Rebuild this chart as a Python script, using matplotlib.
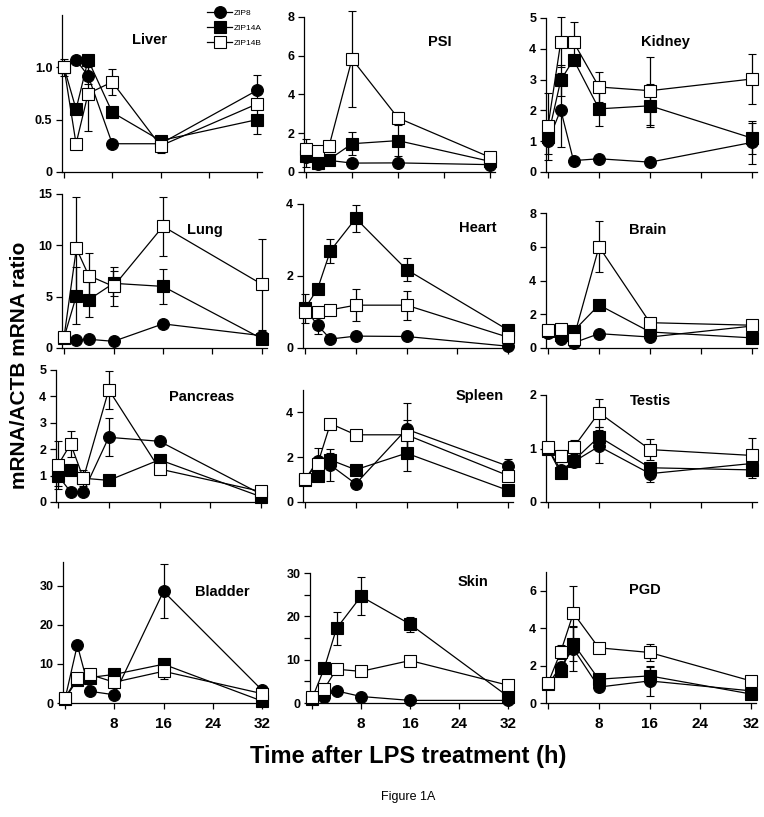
import matplotlib
matplotlib.use("Agg")
import matplotlib.pyplot as plt
from matplotlib.ticker import FixedLocator

plt.rcParams['font.family'] = ['Liberation Sans', 'DejaVu Sans']

W, H = 764, 817

# time after LPS treatment (h)
hours = [0, 2, 4, 8, 16, 32]
series_names = ["ZIP8", "ZIP14A", "ZIP14B"]
tissues = ["Liver", "PSI", "Kidney", "Lung", "Heart", "Brain",
           "Pancreas", "Spleen", "Testis", "Bladder", "Skin", "PGD"]

# mean mRNA/ACTB ratio, order: ZIP8, ZIP14A, ZIP14B
liver = [[1.0, 1.07, 0.92, 0.27, 0.27, 0.78],
         [1.0, 0.60, 1.07, 0.57, 0.30, 0.50],
         [1.0, 0.27, 0.75, 0.86, 0.25, 0.65]]
psi = [[0.8, 0.40, 0.60, 0.46, 0.47, 0.38],
       [0.85, 0.46, 0.64, 1.46, 1.62, 0.55],
       [1.2, 1.10, 1.32, 5.83, 2.79, 0.76]]
kidney = [[1.0, 2.02, 0.37, 0.43, 0.32, 0.96],
          [1.15, 2.98, 3.65, 2.05, 2.15, 1.10],
          [1.48, 4.22, 4.22, 2.76, 2.64, 3.02]]
lung = [[1.0, 0.8, 0.85, 0.65, 2.35, 1.2],
        [1.0, 5.1, 4.7, 6.3, 6.0, 0.9],
        [1.04, 9.7, 7.05, 6.0, 11.85, 6.2]]
heart = [[1.1, 0.63, 0.25, 0.33, 0.32, 0.05],
         [1.1, 1.65, 2.70, 3.60, 2.18, 0.50],
         [1.0, 1.0, 1.06, 1.19, 1.19, 0.30]]
brain = [[0.9, 0.55, 0.30, 0.85, 0.65, 1.30],
         [1.0, 0.80, 1.00, 2.55, 0.95, 0.60],
         [1.05, 1.15, 0.55, 6.0, 1.50, 1.35]]
pancreas = [[1.0, 0.38, 0.38, 2.45, 2.30, 0.30],
            [1.0, 1.20, 0.90, 0.82, 1.60, 0.20],
            [1.4, 2.20, 0.90, 4.25, 1.25, 0.40]]
spleen = [[1.0, 1.85, 1.65, 0.81, 3.25, 1.60],
          [1.0, 1.14, 1.88, 1.44, 2.18, 0.52],
          [1.04, 1.70, 3.50, 3.00, 3.00, 1.18]]
testis = [[1.0, 0.60, 0.75, 1.04, 0.53, 0.72],
          [1.0, 0.54, 0.77, 1.22, 0.64, 0.60],
          [1.02, 0.86, 1.02, 1.67, 0.98, 0.87]]
bladder = [[1.0, 14.8, 3.0, 2.1, 28.5, 3.3],
           [1.0, 6.0, 6.5, 7.3, 9.9, 0.5],
           [1.3, 6.4, 7.3, 5.3, 8.1, 2.4]]
skin = [[1.0, 1.5, 2.8, 1.5, 0.6, 0.6],
        [1.0, 8.0, 17.2, 24.6, 18.2, 1.5],
        [1.3, 3.3, 7.8, 7.3, 9.8, 4.1]]
pgd = [[1.0, 1.94, 2.90, 0.85, 1.18, 0.65],
       [1.0, 1.71, 3.17, 1.27, 1.45, 0.48],
       [1.06, 2.73, 4.80, 2.95, 2.70, 1.18]]

# error bars (SD), same order
liver_err = [[0.05, 0, 0.08, 0, 0, 0.15],
             [0.05, 0, 0, 0, 0, 0.14],
             [0.08, 0, 0.36, 0.12, 0.07, 0]]
psi_err = [[0, 0, 0, 0, 0, 0],
           [0.6, 0, 0, 0.6, 0.8, 0],
           [0.5, 0, 0, 2.5, 0.3, 0]]
kidney_err = [[0.4, 1.2, 0, 0, 0, 0.7],
              [0, 0.5, 0, 0.55, 0.7, 0.5],
              [1.1, 0.8, 0.65, 0.5, 1.1, 0.8]]
lung_err = [[0, 0, 0, 0, 0, 0],
            [0, 2.8, 1.7, 1.2, 1.7, 0],
            [0, 5.0, 2.2, 1.9, 2.85, 4.4]]
heart_err = [[0.4, 0.23, 0, 0, 0, 0],
             [0, 0, 0.33, 0.38, 0.32, 0],
             [0, 0, 0, 0.45, 0.4, 0]]
brain_err = [[0, 0, 0, 0, 0, 0],
             [0, 0, 0, 0, 0, 0],
             [0, 0, 0, 1.5, 0, 0]]
pancreas_err = [[0.4, 0, 0, 0.72, 0, 0],
                [0, 0, 0.3, 0, 0, 0],
                [0.9, 0.5, 0, 0.73, 0, 0]]
spleen_err = [[0, 0.55, 0.7, 0, 1.15, 0.3],
              [0, 0, 0.3, 0, 0.8, 0],
              [0, 0, 0, 0, 0.65, 0]]
testis_err = [[0, 0, 0, 0.31, 0.16, 0],
              [0, 0, 0, 0.18, 0, 0.15],
              [0, 0.12, 0.13, 0.26, 0.19, 0.33]]
bladder_err = [[0, 0, 0, 0, 6.9, 0],
               [0, 0, 0, 0, 0, 0],
               [0, 0, 0, 0, 2.0, 0]]
skin_err = [[0, 0, 0, 0, 0, 0],
            [0, 0, 3.9, 4.4, 1.7, 0],
            [0, 0, 0, 0, 0, 0]]
pgd_err = [[0, 0, 1.2, 0, 0.78, 0],
           [0, 0, 0.9, 0, 0.45, 0],
           [0, 0.37, 1.45, 0, 0.45, 0]]

means = [liver, psi, kidney, lung, heart, brain,
         pancreas, spleen, testis, bladder, skin, pgd]
errors = [liver_err, psi_err, kidney_err, lung_err, heart_err, brain_err,
          pancreas_err, spleen_err, testis_err, bladder_err, skin_err, pgd_err]

y_max = [1.5, 8, 5, 15, 4, 8, 5, 5, 2, 36, 30, 7]
y_ticks = [[0, 0.5, 1.0], [0, 2, 4, 6, 8], [0, 1, 2, 3, 4, 5],
           [0, 5, 10, 15], [0, 2, 4], [0, 2, 4, 6, 8],
           [0, 1, 2, 3, 4, 5], [0, 2, 4], [0, 1, 2],
           [0, 10, 20, 30], [0, 10, 20, 30], [0, 2, 4, 6]]
y_ticklabels = [["0", "0.5", "1.0"]] + [None] * 11
x_ticks = [0, 8, 16, 24, 32]

# layout in pixels: x of t=0, x of t=32, y of value 0, y of axis top
frames = [(64, 257, 172, 15), (306, 490, 172, 17), (548, 752, 172, 18),
          (64, 262, 348, 194), (305, 508, 348, 204), (548, 752, 348, 213),
          (58, 261, 502, 370), (305, 508, 502, 390), (548, 752, 502, 395),
          (65, 262, 703, 562), (312, 508, 703, 573), (548, 751, 703, 572)]
title_pos = [(150, 40), (440, 42), (665, 42), (205, 230), (478, 228), (648, 230),
             (202, 397), (480, 396), (650, 401), (222, 592), (473, 582), (645, 590)]

markers = ["o", "s", "s"]
faces = ["black", "black", "white"]

fig = plt.figure(figsize=(W / 100, H / 100), dpi=100)

XL, XR = -0.3, 32.8
axes = []
for i, name in enumerate(tissues):
    x0, x32, y0, ytop = frames[i]
    pxh = (x32 - x0) / 32.0
    left = x0 + XL * pxh
    right = x0 + XR * pxh
    ax = fig.add_axes([left / W, 1 - y0 / H, (right - left) / W, (y0 - ytop) / H])
    for k in range(3):
        ax.errorbar(hours, means[i][k], yerr=errors[i][k], color="black",
                    lw=0.9, elinewidth=0.9, capsize=3, capthick=0.9,
                    marker=markers[k], ms=8.5, mfc=faces[k], mec="black",
                    mew=0.8, label=series_names[k], clip_on=False, zorder=2 + k)
    ax.set_xlim(XL, XR)
    ax.set_ylim(0, y_max[i])
    ax.spines['top'].set_visible(False)
    ax.spines['right'].set_visible(False)
    for s in ['left', 'bottom']:
        ax.spines[s].set_linewidth(0.9)
    ax.set_xticks(x_ticks)
    ax.set_yticks(y_ticks[i])
    if y_ticklabels[i]:
        ax.set_yticklabels(y_ticklabels[i])
    ax.tick_params(direction='out', length=4, width=0.9)
    ax.tick_params(axis='y', labelsize=9, pad=3)
    for lab in ax.get_yticklabels():
        lab.set_fontweight('bold')
    if i >= 9:
        ax.set_xticklabels(["", "8", "16", "24", "32"], fontsize=11,
                           fontweight='bold')
        ax.tick_params(axis='x', pad=6)
    else:
        ax.set_xticklabels([])
    if name == "Skin":
        ax.yaxis.set_minor_locator(FixedLocator([5, 15, 25]))
        ax.tick_params(which='minor', direction='out', length=4, width=0.9)
    tx, ty = title_pos[i]
    fig.text(tx / W, 1 - ty / H, name, fontsize=10.5, fontweight='bold',
             ha='center', va='center')
    axes.append(ax)

axes[0].legend(loc='upper left', bbox_to_anchor=(207 / W, 1 - 9 / H),
               bbox_transform=fig.transFigure, frameon=False, fontsize=6,
               handlelength=3.0, labelspacing=0.85, handletextpad=0.15,
               borderpad=0, borderaxespad=0)

fig.text(20 / W, 1 - 365 / H, "mRNA/ACTB mRNA ratio", rotation=90,
         fontsize=15, fontweight='bold', ha='center', va='center')
fig.text(408 / W, 1 - 757 / H, "Time after LPS treatment (h)",
         fontsize=17, fontweight='bold', ha='center', va='center')
fig.text(408 / W, 1 - 797 / H, "Figure 1A", fontsize=9,
         ha='center', va='center')

fig.savefig("out.png", dpi=100)
